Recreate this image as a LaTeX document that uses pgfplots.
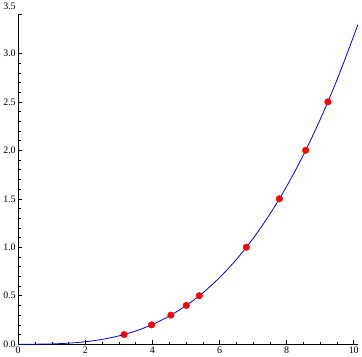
\documentclass[border=0pt]{standalone}
\usepackage{fontspec}
\setmainfont{Liberation Serif}
\usepackage{pgfplots}
\pgfplotsset{compat=1.18}
\begin{document}
\begin{tikzpicture}[x=1bp,y=1bp]
\begin{axis}[
  scale only axis,
  width=341bp, height=331bp,
  xmin=0, xmax=10.12, ymin=0, ymax=3.4,
  axis x line=bottom, axis y line=left,
  axis line style={-, line width=0.6bp},
  tick align=inside,
  major tick length=4bp, minor tick length=2.5bp,
  tick style={black, line width=0.5bp},
  xtick={0,2,4,6,8,10},
  minor x tick num=3,
  ytick={0,0.5,1,1.5,2,2.5,3},
  minor y tick num=4,
  extra y ticks={3.4},
  extra y tick labels={3.5},
  extra y tick style={yticklabel style={yshift=8bp}},
  /pgf/number format/assume math mode=true,
  /pgf/number format/.cd, fixed, fixed zerofill, precision=1,
  /pgfplots/.cd,
  xticklabel={\pgfmathprintnumber[precision=0,fixed zerofill=false]{\tick}},
  ticklabel style={font=\fontsize{10}{11}\selectfont},
  xticklabel style={yshift=1bp},
  yticklabel style={xshift=1bp},
  clip=false,
]
\addplot[blue!90!black, line width=0.8bp, smooth] coordinates {
(0,0) (0.5,0.0004) (1,0.00318) (1.5,0.01073) (2,0.02544) (2.5,0.04969)
(3,0.08586) (3.5,0.13634) (4,0.20352) (4.5,0.28978) (5,0.3975)
(5.5,0.52907) (6,0.68688) (6.5,0.87331) (7,1.09074) (7.5,1.34156)
(8,1.62816) (8.5,1.95292) (9,2.31822) (9.5,2.72645) (10,3.18) (10.12,3.2959)
};
\addplot[only marks, mark=*, mark size=3.3bp, color=red, mark options={fill=red, draw=red}] coordinates {
(3.155,0.1) (3.975,0.2) (4.551,0.3) (5.009,0.4) (5.396,0.5)
(6.799,1.0) (7.783,1.5) (8.566,2.0) (9.229,2.5)
};
\end{axis}
\end{tikzpicture}
\end{document}
